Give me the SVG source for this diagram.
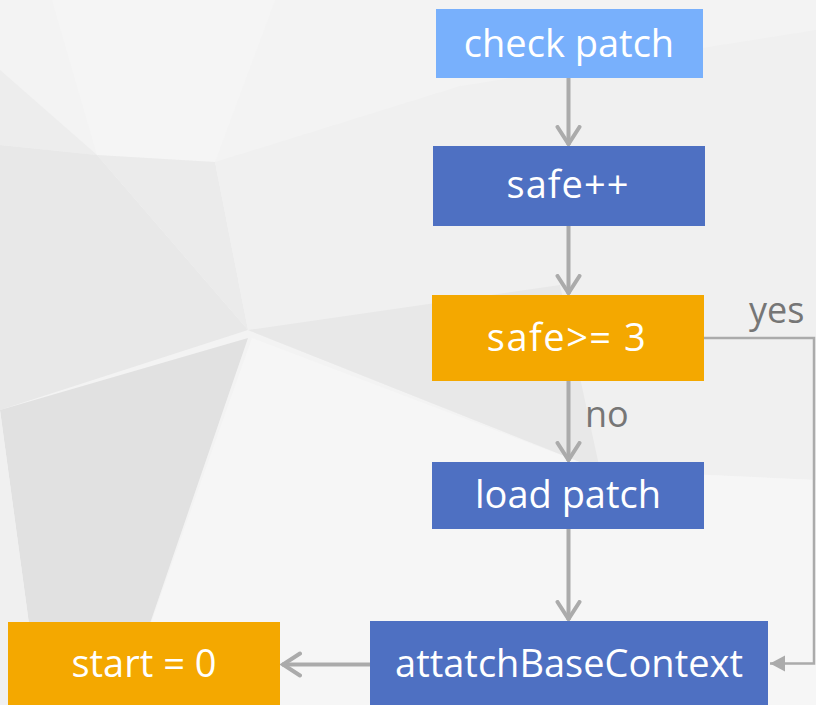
<svg xmlns="http://www.w3.org/2000/svg" width="816" height="705" viewBox="0 0 816 705">
  <style>
    .node-text { font-family: "Open Sans", "Noto Sans", "Liberation Sans", sans-serif; font-size: 38px; fill: #ffffff; text-anchor: middle; }
    .edge-label { font-family: "Open Sans", "Noto Sans", "Liberation Sans", sans-serif; font-size: 36px; fill: #767676; }
    .edge { fill: none; stroke: #ABABAB; stroke-width: 4; }
    .edge-thin { fill: none; stroke: #ABABAB; stroke-width: 2.5; }
    .blue-light { fill: #78B0FC; }
    .blue { fill: #4E70C2; }
    .orange { fill: #F4A800; }
  </style>
  <defs>
    <marker id="chevron" viewBox="-20 -14 24 28" markerWidth="24" markerHeight="28" refX="0" refY="0" orient="auto" markerUnits="userSpaceOnUse">
      <path d="M-18,-11 L-1,0 L-18,11" fill="none" stroke="#ABABAB" stroke-width="4" stroke-linecap="round"/>
    </marker>
    <marker id="solid" viewBox="-16 -10 20 20" markerWidth="20" markerHeight="20" refX="0" refY="0" orient="auto" markerUnits="userSpaceOnUse">
      <path d="M-15,-8 L0,0 L-15,8 Z" fill="#ABABAB"/>
    </marker>
  </defs>

  <!-- low-poly background -->
  <g id="background">
    <rect x="0" y="0" width="816" height="705" fill="#F3F3F3"/>
    <polygon points="52,0 275,0 215,162 97,155" fill="#F5F5F5"/>
    <polygon points="0,70 97,155 0,145" fill="#EDEDED"/>
    <polygon points="0,145 97,155 248,330 0,410" fill="#E8E8E8"/>
    <polygon points="97,155 215,162 248,330" fill="#EBEBEB"/>
    <polygon points="215,162 460,86 816,30 816,480 600,470 248,330" fill="#F0F0F0"/>
    <polygon points="248,330 560,285 600,470" fill="#E8E8E8"/>
    <polygon points="0,410 248,338 122,705 40,705" fill="#E1E1E1"/>
    <polygon points="0,410 40,705 0,705" fill="#F0F0F0"/>
    <polygon points="252,338 600,470 816,480 816,705 122,705" fill="#F6F6F6"/>
  </g>

  <!-- connectors -->
  <g id="connectors">
    <line class="edge" x1="568.5" y1="78" x2="568.5" y2="145" marker-end="url(#chevron)"/>
    <line class="edge" x1="568.5" y1="226" x2="568.5" y2="294" marker-end="url(#chevron)"/>
    <line class="edge" x1="568.5" y1="381" x2="568.5" y2="461" marker-end="url(#chevron)"/>
    <line class="edge" x1="568.5" y1="529" x2="568.5" y2="620" marker-end="url(#chevron)"/>
    <line class="edge" x1="370" y1="664.5" x2="282" y2="664.5" marker-end="url(#chevron)"/>
    <path class="edge-thin" d="M704,338 H814 V663.5 H770" marker-end="url(#solid)"/>
    <text class="edge-label" x="585" y="427">no</text>
    <text class="edge-label" x="749" y="323">yes</text>
  </g>

  <!-- nodes -->
  <g id="check-patch">
    <rect class="blue-light" x="436" y="9" width="267" height="69"/>
    <text class="node-text" x="569" y="57">check patch</text>
  </g>
  <g id="safe-inc">
    <rect class="blue" x="433" y="146" width="272" height="80"/>
    <text class="node-text" x="568" y="198" letter-spacing="1">safe++</text>
  </g>
  <g id="safe-check">
    <rect class="orange" x="432" y="295" width="272" height="86"/>
    <text class="node-text" x="567" y="351" letter-spacing="1.5">safe&gt;= 3</text>
  </g>
  <g id="load-patch">
    <rect class="blue" x="432" y="462" width="272" height="67"/>
    <text class="node-text" x="568" y="508">load patch</text>
  </g>
  <g id="attach-base-context">
    <rect class="blue" x="370" y="621" width="398" height="86"/>
    <text class="node-text" x="569" y="677">attatchBaseContext</text>
  </g>
  <g id="start-zero">
    <rect class="orange" x="8" y="622" width="272" height="86"/>
    <text class="node-text" x="144" y="677">start = 0</text>
  </g>
</svg>
